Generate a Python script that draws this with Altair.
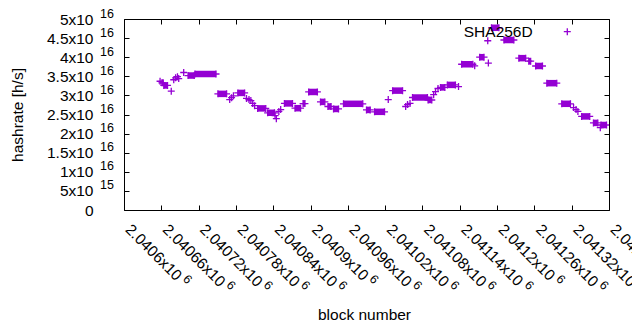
import altair as alt
import pandas as pd

# ---- data (block number ranges of constant hashrate, in 1e16 h/s)
run_start = [2040658, 2040661, 2040664, 2040676, 2040680, 2040683, 2040686, 2040688, 2040696,
             2040703, 2040714, 2040751, 2040770, 2040773, 2040776, 2040783, 2040797, 2040801,
             2040804, 2040807, 2040810, 2040815, 2040831, 2040843, 2040845, 2040849, 2040852,
             2040858, 2040875, 2040888, 2040897, 2040916, 2040928, 2040937, 2040953, 2040990,
             2041003, 2041025, 2041032, 2041053, 2041056, 2041060, 2041064, 2041089, 2041098,
             2041101, 2041105, 2041109, 2041120, 2041138, 2041143, 2041164, 2041172, 2041185,
             2041186, 2041191, 2041211, 2041235, 2041251, 2041262, 2041280, 2041304, 2041323,
             2041327, 2041330, 2041336, 2041355, 2041366, 2041367]
run_end = [2040658, 2040663, 2040670, 2040676, 2040680, 2040683, 2040686, 2040688, 2040696,
           2040713, 2040748, 2040765, 2040770, 2040773, 2040776, 2040794, 2040797, 2040801,
           2040804, 2040807, 2040810, 2040828, 2040842, 2040843, 2040845, 2040849, 2040852,
           2040871, 2040884, 2040891, 2040911, 2040923, 2040933, 2040945, 2040984, 2040996,
           2041019, 2041025, 2041048, 2041053, 2041056, 2041060, 2041088, 2041095, 2041098,
           2041101, 2041105, 2041116, 2041133, 2041138, 2041161, 2041164, 2041179, 2041185,
           2041186, 2041203, 2041227, 2041246, 2041254, 2041273, 2041296, 2041318, 2041323,
           2041327, 2041330, 2041349, 2041362, 2041366, 2041376]
run_rate_e16 = [3.37, 3.33, 3.26, 3.11, 3.41, 3.46, 3.49, 3.44, 3.60,
                3.52, 3.56, 3.04, 2.89, 2.94, 2.99, 3.065, 2.92, 2.89,
                2.865, 2.79, 2.73, 2.66, 2.545, 2.47, 2.39, 2.58, 2.63,
                2.79, 2.665, 2.785, 3.09, 2.83, 2.71, 2.645, 2.78, 2.62,
                2.57, 2.89, 3.125, 2.71, 2.76, 2.79, 2.945, 2.88, 3.02,
                3.10, 3.18, 3.21, 3.275, 3.23, 3.815, 3.775, 4.00, 4.43,
                3.845, 4.77, 4.45, 3.975, 3.895, 3.77, 3.32, 2.78, 2.68,
                2.63, 2.58, 2.45, 2.28, 2.155, 2.225]
series_name = "SHA256D"

x_ticks = [2040600, 2040660, 2040720, 2040780, 2040840, 2040900, 2040960,
           2041020, 2041080, 2041140, 2041200, 2041260, 2041320, 2041380]
x_tick_mantissa = ["2.0406x10", "2.04066x10", "2.04072x10", "2.04078x10",
                   "2.04084x10", "2.0409x10", "2.04096x10", "2.04102x10",
                   "2.04108x10", "2.04114x10", "2.0412x10", "2.04126x10",
                   "2.04132x10", "2.04138x10"]
x_tick_exponent = ["6"] * len(x_ticks)
y_ticks = [0, 5e15, 1e16, 1.5e16, 2e16, 2.5e16, 3e16, 3.5e16, 4e16, 4.5e16, 5e16]
y_tick_mantissa = ["0", "5x10", "1x10", "1.5x10", "2x10", "2.5x10",
                   "3x10", "3.5x10", "4x10", "4.5x10", "5x10"]
y_tick_exponent = ["", "15", "16", "16", "16", "16", "16", "16", "16", "16", "16"]

# ---- tables
rates = [v * 1e16 for v in run_rate_e16]
runs = pd.DataFrame({"start": run_start, "end": run_end, "rate": rates})
ends = pd.DataFrame({"block": run_start + run_end, "rate": rates + rates})
ends = ends.drop_duplicates().reset_index(drop=True)
yexp = pd.DataFrame({"tick": y_ticks, "exp": y_tick_exponent})
yexp = yexp[yexp["exp"] != ""]
xexp = pd.DataFrame({"tick": x_ticks, "exp": x_tick_exponent, "mant": x_tick_mantissa})
xexp_short = xexp[xexp["mant"].str.len() == 9]
xexp_long = xexp[xexp["mant"].str.len() == 10]
key = pd.DataFrame({"series": [series_name]})

COLOR = "#9400d3"
FONT = "Liberation Sans"
FS = 15.5
SUP = 12.5
W, H = 485, 191
PLUS = "M-1,0H1M0,-1V1"
XLAB_PAD = 20

x_expr = "{" + ",".join(f"'{int(t)}':'{l}'" for t, l in zip(x_ticks, x_tick_mantissa)) + "}[datum.value]"
y_expr = "{" + ",".join(f"'{int(t)}':'{l}'" for t, l in zip(y_ticks, y_tick_mantissa)) + "}[datum.value]"

x_scale = alt.Scale(domain=[x_ticks[0], x_ticks[-1]], nice=False, zero=False)
y_scale = alt.Scale(domain=[y_ticks[0], y_ticks[-1]], nice=False, zero=False)

x_axis = alt.Axis(values=x_ticks, labelExpr=x_expr, labelAngle=45, labelAlign="left",
                  labelBaseline="alphabetic", labelPadding=XLAB_PAD, labelFlush=False,
                  labelOverlap=False, labelBound=False, ticks=False, domain=False, grid=True,
                  gridColor="black", gridDash=[5, H - 10, 5, 100], gridWidth=1, gridOpacity=1,
                  labelFont=FONT, labelFontSize=FS, labelColor="black",
                  title="block number", titleFont=FONT, titleFontSize=FS, titleFontWeight="normal",
                  titleColor="black", titleX=240, titleY=104, titleAlign="center",
                  titleBaseline="middle")
y_axis = alt.Axis(values=y_ticks, labelExpr=y_expr, labelPadding=31, labelAlign="right",
                  labelBaseline="middle", labelFlush=False, labelOverlap=False, labelBound=False,
                  ticks=False, domain=False, grid=True, gridColor="black",
                  gridDash=[5, W - 10, 5, 100], gridWidth=1, gridOpacity=1,
                  labelFont=FONT, labelFontSize=FS, labelColor="black",
                  title="hashrate [h/s]", titleFont=FONT, titleFontSize=FS, titleFontWeight="normal",
                  titleColor="black", titleX=-107, titleY=H / 2, titleAngle=270,
                  titleAlign="center", titleBaseline="middle")

bands = alt.Chart(runs).mark_rule(strokeWidth=6.5, color=COLOR, clip=True).encode(
    x=alt.X("start:Q", scale=x_scale, axis=x_axis),
    x2="end:Q",
    y=alt.Y("rate:Q", scale=y_scale, axis=y_axis),
)

points = alt.Chart(ends).mark_point(shape=PLUS, size=49, filled=False, strokeWidth=1.3,
                                    color=COLOR, opacity=1, clip=True).encode(
    x=alt.X("block:Q", scale=x_scale, axis=x_axis),
    y=alt.Y("rate:Q", scale=y_scale, axis=y_axis),
)

# superscript exponents of the y tick labels
y_exponents = alt.Chart(yexp).mark_text(align="right", baseline="middle", dy=-5.5, font=FONT,
                                        fontSize=SUP, color="black").encode(
    x=alt.value(-10),
    y=alt.Y("tick:Q", scale=y_scale, axis=y_axis),
    text="exp:N",
)


# superscript exponents of the rotated x tick labels
def x_exp_layer(df, dx):
    return alt.Chart(df).mark_text(align="left", baseline="alphabetic", angle=45, dx=dx, dy=-6,
                                   font=FONT, fontSize=SUP, color="black").encode(
        x=alt.X("tick:Q", scale=x_scale, axis=x_axis),
        y=alt.value(H + XLAB_PAD),
        text="exp:N",
    )


x_exp_short = x_exp_layer(xexp_short, 76.5)
x_exp_long = x_exp_layer(xexp_long, 85)

# key (gnuplot style: title, then sample)
key_text = alt.Chart(key).mark_text(align="right", baseline="middle", font=FONT, fontSize=FS,
                                    color="black").encode(
    x=alt.value(408.7), y=alt.value(12.7), text="series:N")
key_sym = alt.Chart(key).mark_point(shape=PLUS, size=49, filled=False, strokeWidth=1.3,
                                    color=COLOR, opacity=1).encode(
    x=alt.value(443.3), y=alt.value(12.7))

chart = alt.layer(bands, points, y_exponents, x_exp_short, x_exp_long, key_text, key_sym).properties(
    width=W, height=H,
    padding={"left": 116, "top": 11, "right": 23, "bottom": 112},
    autosize=alt.AutoSizeParams(type="none"),
).configure_view(stroke="black", strokeWidth=1)

chart.save("out.html", embed_options={"renderer": "svg", "actions": False})
